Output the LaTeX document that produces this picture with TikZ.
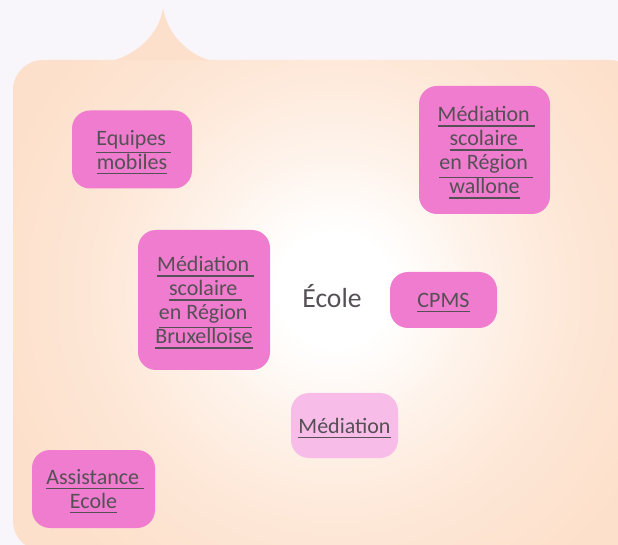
\documentclass[tikz,border=0pt]{standalone}
\usepackage{fontspec}
\setmainfont{Carlito}
\definecolor{pagebg}{HTML}{F8F6FB}
\definecolor{peach}{HTML}{FDE0CB}
\definecolor{boxpink}{HTML}{F07CCF}
\definecolor{boxlight}{HTML}{F7BCE8}
\definecolor{inktext}{HTML}{555055}
\pgfdeclareradialshading{schoolglow}{\pgfpoint{0bp}{0bp}}{
  color(0bp)=(white);
  color(2.4bp)=(white);
  color(5.9bp)=(peach!40!white);
  color(10bp)=(peach!78!white);
  color(14.7bp)=(peach);
  color(50bp)=(peach)}
\newcommand{\ulx}[1]{\leavevmode\vtop{\hbox{#1}\kern 2.6pt\hrule height 0.95pt\kern-5.05pt}}
\newcommand{\ulsp}[1]{\leavevmode\kern 2.6pt\ulx{#1\ }}
\tikzset{
  x=0.75pt,y=-0.75pt,
  service/.style={rounded corners=13.5pt,fill=boxpink,text=inktext,align=center,
    inner sep=0pt,font=\fontsize{16.5pt}{18pt}\selectfont},
  lightservice/.style={service,fill=boxlight},
  title/.style={text=inktext,inner sep=0pt,font=\fontsize{20.7pt}{24pt}\selectfont}
}
\begin{document}
\begin{tikzpicture}
\useasboundingbox (0,0) rectangle (618,545);
\fill[pagebg] (0,0) rectangle (618,545);
\begin{scope}
  \clip (0,0) rectangle (618,545);
  \begin{scope}
    \clip[rounded corners=22.5pt] (13,60) rectangle (640,551);
    \shade[shading=schoolglow] (335,290) circle[radius=600];
  \end{scope}
  \fill[peach] (113,60.5) .. controls (142,52) and (160,30) .. (163,8)
     .. controls (167,32) and (185,53) .. (210,60.5) -- cycle;
\end{scope}
\node[service,minimum width=90pt,minimum height=58.5pt] (equipes) at (132,149.5)
  {\ulsp{Equipes}\\\ulx{mobiles}};
\node[service,minimum width=98.25pt,minimum height=96pt] (wallone) at (484.5,150)
  {\ulsp{Médiation}\\\ulsp{scolaire}\\\ulsp{en Région}\\\ulx{wallone}};
\node[service,minimum width=99pt,minimum height=105pt] (bruxelles) at (204,300)
  {\ulsp{Médiation}\\\ulsp{scolaire}\\\ulsp{en Région}\\\ulx{Bruxelloise}};
\node[service,minimum width=80.25pt,minimum height=42pt] (cpms) at (443.5,300)
  {\ulx{CPMS}};
\node[lightservice,minimum width=80.25pt,minimum height=48.75pt] (mediation) at (344.5,425.5)
  {\ulx{Médiation}};
\node[service,minimum width=92.25pt,minimum height=58.5pt] (assistance) at (93.5,489)
  {\ulsp{Assistance}\\\ulx{Ecole}};
\node[title] (ecole) at (332,296) {École};
\end{tikzpicture}
\end{document}
